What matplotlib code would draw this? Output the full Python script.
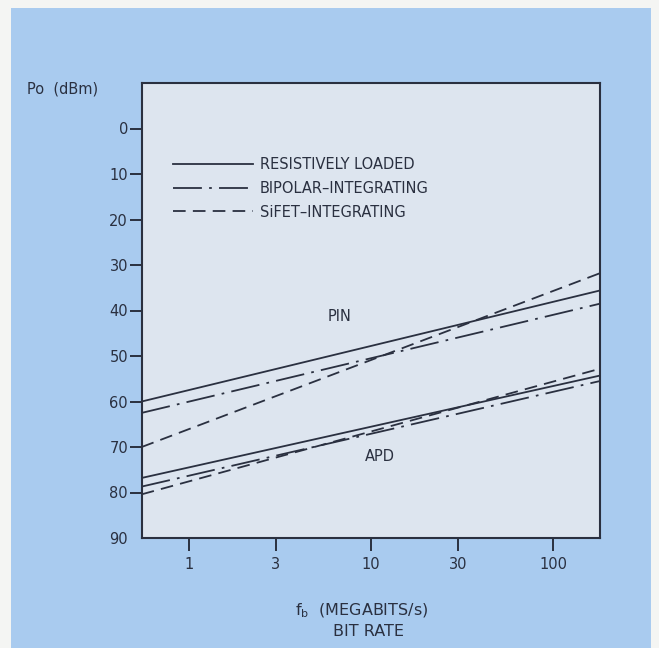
import matplotlib
matplotlib.use("Agg")
import matplotlib.pyplot as plt
from matplotlib.patches import Rectangle

# bit rate end points (Mb/s) and Po (-dBm)
bit_rate = [0.55, 181]

pin_resistive = [60.0, 35.6]
pin_bipolar = [62.5, 38.5]
pin_sifet = [70.0, 31.8]

apd_resistive = [76.8, 54.3]
apd_bipolar = [78.7, 55.5]
apd_sifet = [80.4, 52.8]

series_names = ["RESISTIVELY LOADED", "BIPOLAR\u2013INTEGRATING", "SiFET\u2013INTEGRATING"]

x_ticks = [1, 3, 10, 30, 100]
x_tick_labels = ["1", "3", "10", "30", "100"]
y_ticks = [0, 10, 20, 30, 40, 50, 60, 70, 80, 90]

ink = "#2a3040"
panel_blue = "#a9cbef"
plot_bg = "#dde5ef"

plt.rcParams["font.family"] = ["DejaVu Sans"]

fig = plt.figure(figsize=(6.59, 6.48), dpi=100)
fig.patch.set_facecolor("#f4f5f3")
fig.patches.append(Rectangle((11 / 659, 0), 640 / 659, 1 - 8 / 648,
                             transform=fig.transFigure, facecolor=panel_blue,
                             edgecolor="none", zorder=-5))

ax = fig.add_axes([142 / 659, 1 - 538 / 648, 458 / 659, 455 / 648])
ax.set_facecolor(plot_bg)

styles = [
    dict(linestyle="-"),
    dict(linestyle=(0, (16, 4, 1.5, 4))),
    dict(linestyle=(0, (7, 4))),
]
lw = 1.3

for vals, st, name in zip([pin_resistive, pin_bipolar, pin_sifet], styles, series_names):
    ax.plot(bit_rate, vals, color=ink, lw=lw, label=name, **st)
for vals, st in zip([apd_resistive, apd_bipolar, apd_sifet], styles):
    ax.plot(bit_rate, vals, color=ink, lw=lw, **st)

ax.set_xscale("log")
ax.set_xlim(0.552, 181)
ax.set_ylim(90, -10)

ax.set_xticks(x_ticks)
ax.set_xticklabels(x_tick_labels)
ax.xaxis.set_minor_locator(matplotlib.ticker.NullLocator())
ax.set_yticks(y_ticks)
ax.set_yticklabels([str(v) for v in y_ticks])
ax.tick_params(axis="both", colors=ink, labelcolor=ink, labelsize=10.5,
               length=9, width=1.4, direction="out")
ax.tick_params(axis="x", pad=5)
ax.tick_params(axis="y", pad=1)
ax.yaxis.get_major_ticks()[-1].tick1line.set_visible(False)

for sp in ax.spines.values():
    sp.set_color(ink)
    sp.set_linewidth(1.5)

ax.text(6.7, 41.4, "PIN", color=ink, fontsize=10.5, ha="center", va="center")
ax.text(11.2, 72.1, "APD", color=ink, fontsize=10.5, ha="center", va="center")

leg = ax.legend(loc="upper left", bbox_to_anchor=(0.055, 0.85), frameon=False,
                handlelength=5.5, handletextpad=0.45, labelspacing=0.6,
                fontsize=10.5, borderaxespad=0)
for t in leg.get_texts():
    t.set_color(ink)

fig.text(98 / 659, 1 - 89 / 648, "Po  (dBm)", color=ink, fontsize=10.5,
         ha="right", va="center")
fig.text(362 / 659, 1 - 611 / 648, r"f$_{\rm b}$  (MEGABITS/s)", color=ink,
         fontsize=11.5, ha="center", va="center")
fig.text(368 / 659, 1 - 632 / 648, "BIT RATE", color=ink, fontsize=11.5,
         ha="center", va="center")

fig.savefig("out.png", dpi=100, facecolor=fig.get_facecolor())
